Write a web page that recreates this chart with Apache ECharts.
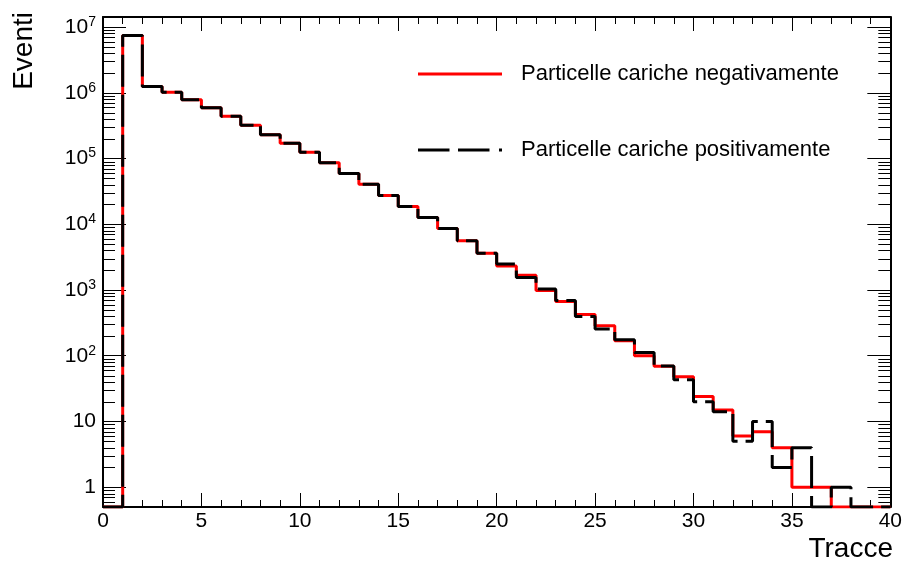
<!DOCTYPE html>
<html>
<head>
<meta charset="utf-8">
<script src="https://cdn.jsdelivr.net/npm/echarts@6/dist/echarts.min.js"></script>
<style>
html,body{margin:0;padding:0;background:#fff;}
#chart{width:905px;height:568px;}
</style>
</head>
<body>
<div id="chart"></div>
<script>
// ---- data ----
const binLow = [0,1,2,3,4,5,6,7,8,9,10,11,12,13,14,15,16,17,18,19,20,21,22,23,24,25,26,27,28,29,30,31,32,33,34,35,36,37,38,39];
const binHigh = 40;
const negCounts = [0,7450000,1250000,1020000,780000,590000,440000,320000,230000,170000,
  124000,86000,59000,40700,27400,18600,12700,8600,5600,3630,
  2320,1680,984,669,424,285,169,100,69,48,
  24,15,6,7,4,1,1,0,0,0];
const posCounts = [0,7450000,1250000,1020000,780000,590000,440000,320000,230000,170000,
  124000,86000,59000,40700,27400,18600,12700,8600,5600,3630,
  2490,1550,1035,692,395,254,175,112,70,43,
  20,14,5,10,2,4,0,1,0,0];
const seriesNames = ['Particelle cariche negativamente','Particelle cariche positivamente'];
const xTickLabels = ['0','5','10','15','20','25','30','35','40'];
const yMin = 0.5, yMax = 1.42e7;
const minorMultipliers = [2,3,4,5,6,7,8,9];
const lowMinor = [0.6,0.7,0.8,0.9];

const FONT = 'Liberation Sans, Arial, Helvetica, sans-serif';

function histPoints(counts){
  const pts = binLow.map((x,i)=>[x, counts[i] > 0 ? counts[i] : yMin]);
  const last = counts[counts.length-1];
  pts.push([binHigh, last > 0 ? last : yMin]);
  return pts;
}

// minor tick positions on log axis
const yMinorTicks = lowMinor.slice();
for (let k = 0; k < 7; k++) {
  minorMultipliers.forEach(m => { const v = m*Math.pow(10,k); if (v < yMax) yMinorTicks.push(v); });
}

function yLabel(v){
  const e = Math.round(Math.log10(v));
  if (Math.abs(Math.log10(v) - e) > 1e-6) return '';
  if (e === 0) return '1';
  if (e === 1) return '10';
  return '{b|10}{s|' + e + '}';
}

const chart = echarts.init(document.getElementById('chart'), null, {renderer:'canvas'});
const grid = {left:103, top:17, right:13, bottom:61, containLabel:false};

const option = {
  animation:false,
  backgroundColor:'#fff',
  grid: grid,
  legend: {
    orient:'vertical',
    left:418, top:63,
    padding:0,
    itemWidth:84, itemHeight:3,
    itemGap:54,
    selectedMode:false,
    textStyle:{fontFamily:FONT, fontSize:22, color:'#000', lineHeight:22, padding:[0,0,0,14]},
    data: [
      {name: seriesNames[0], icon:'path://M0,0h84v3h-84z', itemStyle:{color:'#ff0000'}},
      {name: seriesNames[1], icon:'path://M0,0h31.5v3h-31.5z M40,0h31.5v3h-31.5z M81,0h3v3h-3z', itemStyle:{color:'#000000'}}
    ]
  },
  xAxis: [{
    type:'value', min:0, max:40, interval:5, position:'bottom',
    axisLine:{onZero:false, lineStyle:{color:'#000', width:2}},
    axisTick:{inside:true, length:14, lineStyle:{color:'#000', width:1}},
    minorTick:{show:true, splitNumber:5, length:7, lineStyle:{color:'#000', width:1}},
    splitLine:{show:false},
    axisLabel:{margin:4, fontFamily:FONT, fontSize:21, color:'#000',
      formatter:(v)=>xTickLabels[Math.round(v/5)]}
  },{
    type:'value', min:0, max:40, interval:5, position:'top',
    axisLine:{onZero:false, lineStyle:{color:'#000', width:2}},
    axisTick:{inside:true, length:14, lineStyle:{color:'#000', width:1}},
    minorTick:{show:true, splitNumber:5, length:7, lineStyle:{color:'#000', width:1}},
    splitLine:{show:false},
    axisLabel:{show:false}
  }],
  yAxis: [{
    type:'log', logBase:10, min:yMin, max:yMax, position:'left',
    axisLine:{onZero:false, lineStyle:{color:'#000', width:2}},
    axisTick:{inside:true, length:23, lineStyle:{color:'#000', width:1}},
    splitLine:{show:false},
    axisLabel:{margin:7, showMinLabel:false, showMaxLabel:false, color:'#000',
      fontFamily:FONT, fontSize:21,
      formatter: yLabel,
      rich:{
        b:{fontFamily:FONT, fontSize:21, lineHeight:24, color:'#000'},
        s:{fontFamily:FONT, fontSize:14, lineHeight:14, color:'#000', verticalAlign:'top'}
      }}
  },{
    type:'log', logBase:10, min:yMin, max:yMax, position:'right',
    axisLine:{onZero:false, lineStyle:{color:'#000', width:2}},
    axisTick:{inside:true, length:23, lineStyle:{color:'#000', width:1}},
    splitLine:{show:false},
    axisLabel:{show:false}
  }],
  series: [
    {
      name: seriesNames[0], type:'line', step:'end',
      xAxisIndex:0, yAxisIndex:0,
      data: histPoints(negCounts),
      symbol:'none', showSymbol:false,
      lineStyle:{color:'#ff0000', width:3, type:'solid'},
      itemStyle:{color:'#ff0000'},
      z:3
    },
    {
      name: seriesNames[1], type:'line', step:'end',
      xAxisIndex:0, yAxisIndex:0,
      data: histPoints(posCounts),
      symbol:'none', showSymbol:false,
      lineStyle:{color:'#000000', width:3, type:[32,8]},
      itemStyle:{color:'#000000'},
      z:4
    },
    {
      name:'yminor', type:'custom', xAxisIndex:0, yAxisIndex:0,
      silent:true, z:5,
      data: yMinorTicks.map(v=>[0, v]),
      encode:{x:0, y:1},
      renderItem: function(params, api){
        const v = api.value(1);
        const pl = api.coord([0, v]);
        const pr = api.coord([40, v]);
        const y = Math.round(pl[1]) + 0.5;
        return {type:'group', children:[
          {type:'line', shape:{x1:pl[0], y1:y, x2:pl[0]+12, y2:y}, style:{stroke:'#000', lineWidth:1}},
          {type:'line', shape:{x1:pr[0]-12, y1:y, x2:pr[0], y2:y}, style:{stroke:'#000', lineWidth:1}}
        ]};
      }
    }
  ],
  graphic: [
    {type:'text', x:24, y:12, rotation:Math.PI/2,
      style:{text:'Eventi', fontFamily:FONT, fontSize:28, fill:'#000', align:'right', verticalAlign:'middle'}},
    {type:'text', x:893, y:549,
      style:{text:'Tracce', fontFamily:FONT, fontSize:28, fill:'#000', align:'right', verticalAlign:'middle'}}
  ]
};
chart.setOption(option);
</script>
</body>
</html>
